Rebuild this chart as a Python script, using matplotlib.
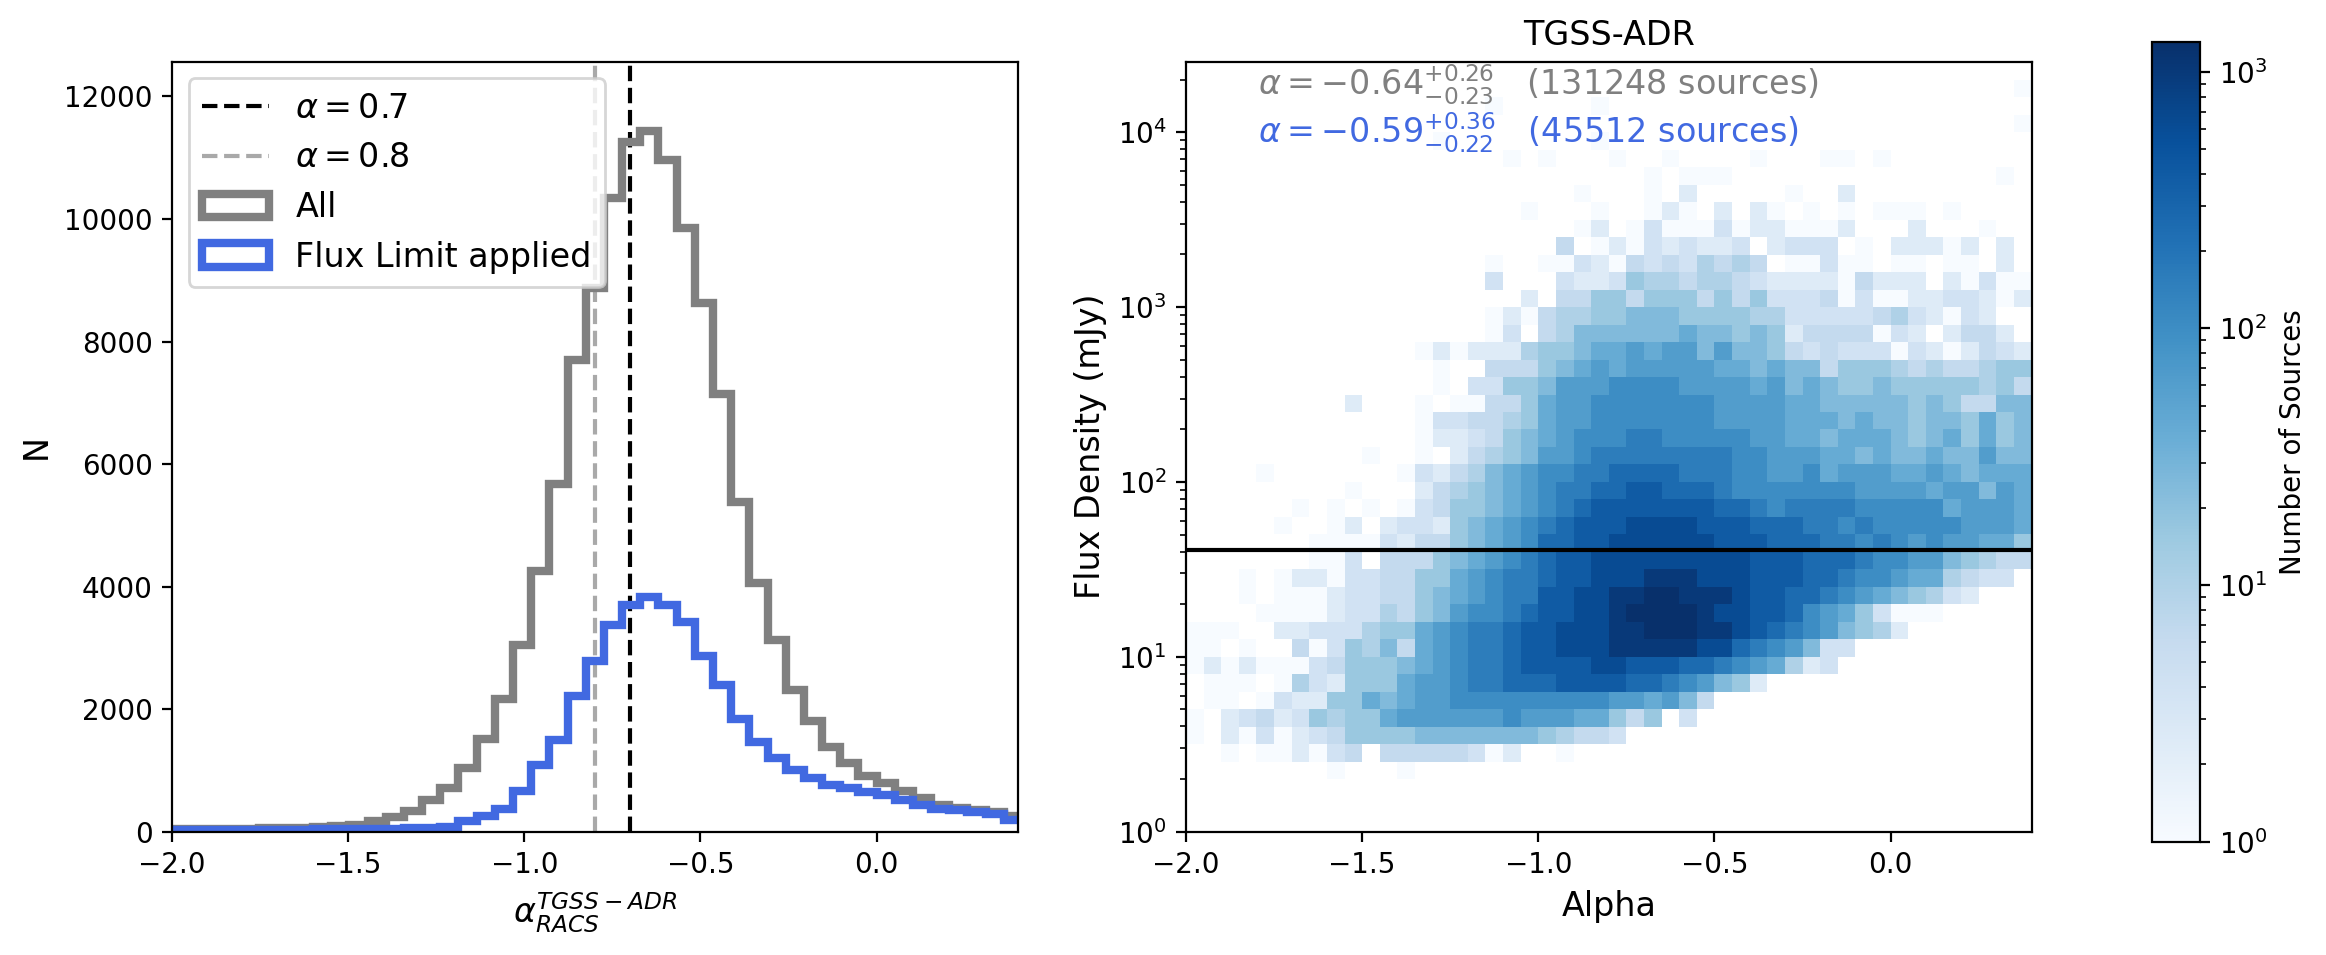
import numpy as np
import matplotlib
matplotlib.use("Agg")
import matplotlib.pyplot as plt
from matplotlib.colors import LogNorm

# ---------------- Left panel: spectral index histograms ----------------
BIN_WIDTH = 0.0516
bin_edges = BIN_WIDTH * np.arange(-39, 9)          # 48 edges -> 47 bins

all_counts = [38, 38, 38, 40, 50, 55, 58, 68, 75, 100, 115, 175, 240, 330,
              510, 708, 1040, 1505, 2160, 3040, 4250, 5670, 7700, 8870,
              10338, 11262, 11430, 10970, 9850, 8625, 7142, 5375, 4067,
              3125, 2317, 1808, 1375, 1125, 917, 792, 667, 542, 442, 392,
              350, 317, 250]
flux_limited_counts = [30, 30, 30, 30, 30, 30, 35, 35, 38, 40, 42, 45, 50,
                       55, 65, 83, 167, 250, 375, 667, 1083, 1500, 2208,
                       2792, 3375, 3708, 3833, 3692, 3417, 2875, 2400, 1833,
                       1458, 1208, 1000, 875, 767, 708, 650, 600, 525, 433,
                       375, 350, 317, 292, 192]
alpha_lines = [-0.7, -0.8]
alpha_line_labels = [r"$\alpha = 0.7$", r"$\alpha = 0.8$"]

# ---------------- Right panel: 2D histogram (alpha vs flux) ----------------
alpha_edges = np.round(np.arange(-2.0, 0.4001, 0.05), 3)     # 48 columns
log_flux_edges = 0.1 * np.arange(3, 45)                       # rows 0.3 .. 4.4 dex
# each char = log-count level L (count = 10**(L/5)); '.' = empty cell
# rows listed from top (4.3-4.4 dex) to bottom (0.3-0.4 dex), 6 blocks of 8 columns
density_rows = [
    "........" "........" "........" "........" "........" "........",
    "........" "........" "........" "........" "........" ".......0",
    "........" "........" ".0.....0" "........" "........" "........",
    "........" "........" "........" "........" "........" ".......0",
    "........" "......0." ".......0" "........" "........" "........",
    "........" "........" "..0.0..." "0..0...." "0...00.0" "........",
    "........" "........" "........" "..0.000." "........" "......0.",
    "........" "........" "......0." "..0.2..." "..0..2.." "........",
    "........" "........" "...0...0" "..020.2." "20.0.0.0" "00.0....",
    "........" "........" "......02" ".0300030" "220002.." ".2...0..",
    "........" "........" ".....4.0" "20323223" ".2333.0." "22202.2.",
    "........" "........" ".0..0032" "04343545" "4.00300." "00.00.2.",
    "........" "........" ".3...322" "36554554" "32222042" "22.20300",
    "........" "........" "...2.446" "64666464" "63334030" "02233202",
    "........" "........" ".0204556" "67776666" "55333334" "532032..",
    "........" "........" ".03.4577" "77778776" "76244440" "32.2442.",
    "........" ".....020" "22256678" "89899797" "76434333" "03202432",
    "........" "......0." ".4446789" "89999988" "78774666" "54544566",
    "........" "......0." "33667999" "aaaa9999" "89787667" "66666564",
    "........" ".2...0.0" "0446899a" "aaaaaa99" "99887777" "76764477",
    "........" ".....033" "4456899a" "aaaaaa99" "99888787" "76776867",
    "........" ".....022" "346789aa" "abbaaaaa" "99887888" "76786867",
    "........" "..0..0.2" "456799ab" "bbbbbbba" "a9998878" "77877977",
    "....0..." "....0324" "5789aabb" "ccccbbba" "a99a8999" "88987888",
    "........" ".0...245" "6789abbc" "cddcccba" "aaaaaa99" "99899798",
    "......0." "0.0.0346" "6789abcd" "ddddddcc" "babbbbaa" "aaa89998",
    ".....0.." "02.23326" "789abcdd" "deeeeddd" "cccbbaba" "aaaa9998",
    ".......0" "00032446" "789accdd" "eeeeeedd" "dcccbbab" "a9a99886",
    ".......0" "03.44467" "89abcdde" "eeeeeeee" "dddcccba" "a9976544",
    "...0.022" "03344668" "9abbcdde" "eefffeee" "dddccbaa" "9885433.",
    "...0.000" "23344678" "9abbddee" "ffggfffe" "ddccba98" "76532...",
    "....0000" "23354679" "aabcddee" "fggggfee" "ddca9863" "000.....",
    "000..223" "3356689a" "bbcddeee" "ffgggffe" "dcba9765" "2.......",
    "00.0..40" "3657489a" "bbcddeee" "fffffeec" "ba9733.." "........",
    "02020003" "4666789a" "bbcdddde" "edddccba" "98523..." "........",
    ".000.053" "2666899a" "bbcccddd" "dccba976" "2......." "........",
    ".00.0322" "6687899a" "aaaaaaaa" "998974.." "........" "........",
    "0.234236" "56689999" "99a99988" "646.3..." "........" "........",
    "0.203023" "46666777" "77776544" "3......." "........" "........",
    "..0.0020" "34.44444" "302..0.." "........" "........" "........",
    "........" "0...0..." "........" "........" "........" "........",
]


def decode_rows(rows):
    grid = []
    for row in rows:
        assert len(row) == 48, row
        grid.append([np.nan if ch == "." else 10 ** (int(ch, 36) / 5.0)
                     for ch in row])
    return np.array(grid)[::-1]            # bottom row first


density = np.ma.masked_invalid(decode_rows(density_rows))
flux_edges = 10 ** log_flux_edges

# ---------------- figure ----------------
fig = plt.figure(figsize=(11.63, 4.775), dpi=200)
ax1 = fig.add_axes([0.07395, 0.1291, 0.36350, 0.8063])
ax2 = fig.add_axes([0.50989, 0.1291, 0.36351, 0.8063])
cax = fig.add_axes([0.92506, 0.11864, 0.02077, 0.83770])

# Left panel
h1 = ax1.axvline(alpha_lines[0], color="k", ls="--", lw=1.5,
                 label=alpha_line_labels[0])
h2 = ax1.axvline(alpha_lines[1], color="darkgrey", ls="--", lw=1.5,
                 label=alpha_line_labels[1])
_, _, p_all = ax1.hist(bin_edges[:-1], bins=bin_edges, weights=all_counts,
                       histtype="step", color="grey", lw=3, label="All")
_, _, p_flux = ax1.hist(bin_edges[:-1], bins=bin_edges,
                        weights=flux_limited_counts, histtype="step",
                        color="royalblue", lw=3, label="Flux Limit applied")
ax1.set_xlim(-2.0, 0.4)
ax1.set_ylim(0, 12567)
ax1.set_xlabel(r"$\alpha_{RACS}^{TGSS-ADR}$", fontsize=12)
ax1.set_ylabel("N", fontsize=12)
ax1.legend(handles=[h1, h2, p_all[0], p_flux[0]], loc="upper left",
           fontsize=12)

# Right panel
mesh = ax2.pcolormesh(alpha_edges, flux_edges, density, cmap="Blues",
                      norm=LogNorm(vmin=1, vmax=1310))
ax2.set_yscale("log")
ax2.axhline(41, color="k", lw=1.5)
ax2.set_xlim(-2.0, 0.4)
ax2.set_ylim(1, 2.53e4)
ax2.set_xlabel("Alpha", fontsize=12)
ax2.set_ylabel("Flux Density (mJy)", fontsize=12)
ax2.set_title("TGSS-ADR", fontsize=12)
ax2.text(0.0857, 0.9555,
         r"$\alpha = -0.64^{+0.26}_{-0.23}$   (131248 sources)",
         transform=ax2.transAxes, color="grey", fontsize=12)
ax2.text(0.0857, 0.894,
         r"$\alpha = -0.59^{+0.36}_{-0.22}$   (45512 sources)",
         transform=ax2.transAxes, color="royalblue", fontsize=12)

cb = fig.colorbar(mesh, cax=cax)
cb.set_label("Number of Sources", fontsize=10)

fig.savefig("out.png", dpi=200)
